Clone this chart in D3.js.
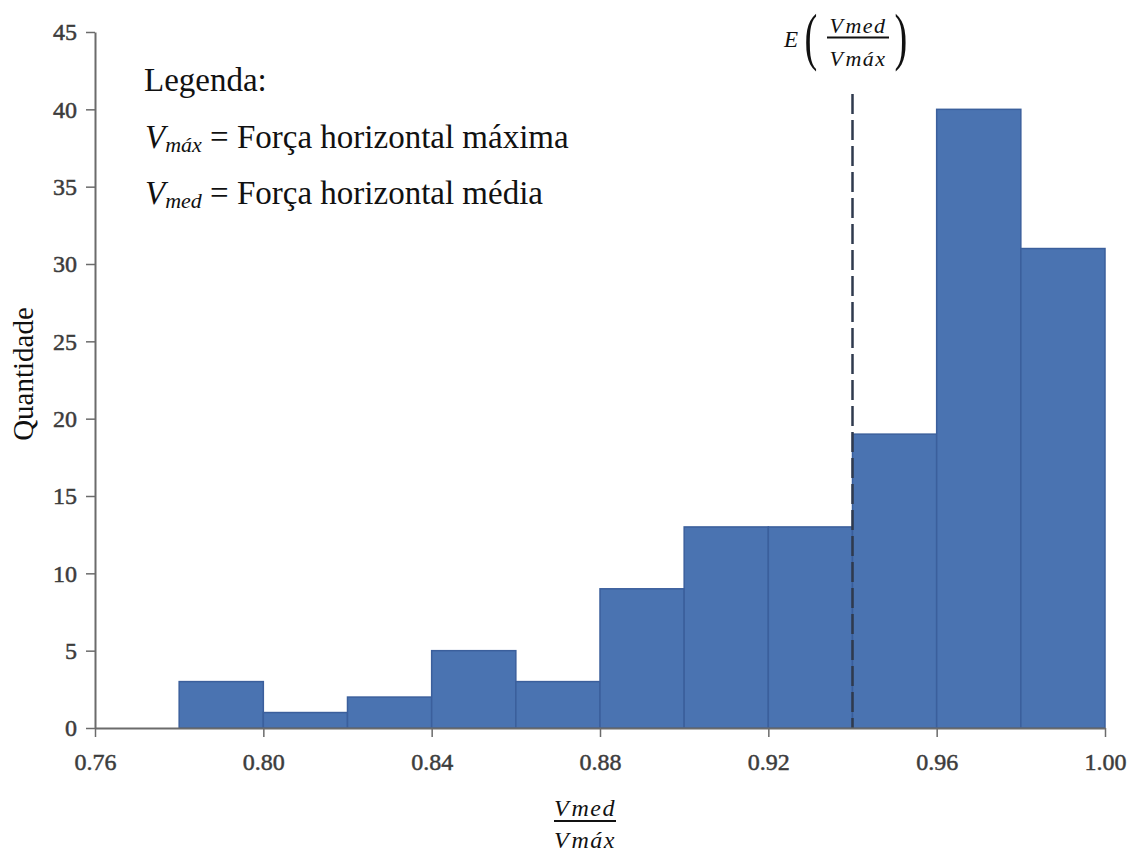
<!DOCTYPE html>
<html>
<head>
<meta charset="utf-8">
<script src="https://cdn.jsdelivr.net/npm/d3@7"></script>
<style>
  body { margin: 0; background: #fff; }
  svg text { font-family: "Liberation Serif", "Times New Roman", Times, serif; }
</style>
</head>
<body>
<svg id="chart"></svg>
<script>
// bin edges and counts
const binStarts = [0.76, 0.78, 0.80, 0.82, 0.84, 0.86, 0.88, 0.90, 0.92, 0.94, 0.96, 0.98];
const binWidth = 0.02;
const counts = [0, 3, 1, 2, 5, 3, 9, 13, 13, 19, 40, 31];
const xTicks = [0.76, 0.80, 0.84, 0.88, 0.92, 0.96, 1.00];
const yTicks = [0, 5, 10, 15, 20, 25, 30, 35, 40, 45];
const meanRatio = 0.94;

const SERIF = 'Liberation Serif, Times New Roman, serif';

const width = 1134, height = 854;
const margin = {top: 32, right: 29, bottom: 126, left: 95};
const innerW = width - margin.left - margin.right;
const innerH = height - margin.top - margin.bottom;

const svg = d3.select('#chart').attr('width', width).attr('height', height);
const chart = svg.append('g').attr('transform', `translate(${margin.left}, ${margin.top})`);

const xscale = d3.scaleLinear().domain([0.76, 1.00]).range([0, innerW]);
const yscale = d3.scaleLinear().domain([0, 45]).range([innerH, 0]);

const bins = binStarts.map((s, i) => ({x0: s, x1: s + binWidth, n: counts[i]}));

chart.selectAll('rect.bar')
  .data(bins.filter(d => d.n > 0))
  .join('rect')
  .attr('class', 'bar')
  .attr('x', d => xscale(d.x0))
  .attr('width', d => xscale(d.x1) - xscale(d.x0))
  .attr('y', d => yscale(d.n))
  .attr('height', d => yscale(0) - yscale(d.n))
  .attr('fill', '#4a73b1')
  .attr('stroke', '#3b5f9c')
  .attr('stroke-width', 1.5);

// dashed mean line
chart.append('line')
  .attr('x1', xscale(meanRatio)).attr('x2', xscale(meanRatio))
  .attr('y1', 62).attr('y2', yscale(0))
  .attr('stroke', '#2f3a4e')
  .attr('stroke-width', 2.5)
  .attr('stroke-dasharray', '20,6');

// axes
const xaxis = d3.axisBottom(xscale).tickValues(xTicks).tickFormat(d3.format('.2f')).tickSize(9).tickSizeOuter(0).tickPadding(16);
const yaxis = d3.axisLeft(yscale).tickValues(yTicks).tickSize(9).tickSizeOuter(0).tickPadding(9);

const xg = chart.append('g').attr('transform', `translate(0, ${innerH})`).call(xaxis);
const yg = chart.append('g').call(yaxis);

[xg, yg].forEach(g => {
  g.attr('font-family', SERIF).attr('font-size', 24);
  g.select('.domain').attr('stroke', '#6b6b6b').attr('stroke-width', 2);
  g.selectAll('.tick line').attr('stroke', '#6b6b6b').attr('stroke-width', 1.5);
  g.selectAll('.tick text')
    .attr('font-family', SERIF)
    .attr('font-size', 24)
    .attr('fill', '#3c3c3c')
    .attr('stroke', '#3c3c3c')
    .attr('stroke-width', 0.5);
});

// y label
svg.append('text')
  .attr('transform', `translate(33, 374) rotate(-90)`)
  .attr('text-anchor', 'middle')
  .attr('font-family', SERIF)
  .attr('font-size', 29)
  .attr('fill', '#111')
  .text('Quantidade');

// legend
const leg = svg.append('g').attr('fill', '#111').attr('font-family', SERIF).attr('font-size', 33);
leg.append('text').attr('x', 144).attr('y', 91).attr('font-family', SERIF).text('Legenda:');

function subLine(y, sub, rest) {
  const t = leg.append('text').attr('x', 145).attr('y', y).attr('font-family', SERIF);
  t.append('tspan').attr('font-style', 'italic').text('V');
  t.append('tspan').attr('font-style', 'italic').attr('font-size', 22).attr('dy', 4).text(sub);
  t.append('tspan').attr('dy', -4).text(' = ' + rest);
}
subLine(148, 'máx', 'Força horizontal máxima');
subLine(204, 'med', 'Força horizontal média');

// fraction helper
function fraction(g, cx, ny, dy, ly, size, half) {
  [[ny, 'med'], [dy, 'máx']].forEach(([y, s]) => {
    const t = g.append('text').attr('x', cx).attr('y', y).attr('text-anchor', 'middle')
      .attr('font-family', SERIF).attr('font-style', 'italic')
      .attr('font-size', size).attr('fill', '#111')
      .attr('letter-spacing', 1.5);
    t.append('tspan').text('V');
    t.append('tspan').attr('dx', size * 0.05).text(s);
  });
  g.append('line')
    .attr('x1', cx - half).attr('x2', cx + half)
    .attr('y1', ly).attr('y2', ly)
    .attr('stroke', '#111').attr('stroke-width', 1.8);
}

// x label
fraction(svg.append('g'), 585, 816, 848, 821, 24, 31);

// mean label
const ml = svg.append('g');
ml.append('text').attr('x', 791).attr('y', 47).attr('text-anchor', 'middle')
  .attr('font-family', SERIF).attr('font-style', 'italic').attr('font-size', 23)
  .attr('fill', '#111').text('E');
[[811, '('], [901, ')']].forEach(([px, ch]) => {
  ml.append('text').attr('x', px).attr('y', 58).attr('text-anchor', 'middle')
    .attr('font-family', SERIF).attr('font-size', 64).attr('fill', '#111')
    .attr('transform', `translate(${px},58) scale(0.6,1) translate(${-px},-58)`).text(ch);
});
fraction(ml, 858, 33, 66, 37.5, 22, 31);
</script>
</body>
</html>
